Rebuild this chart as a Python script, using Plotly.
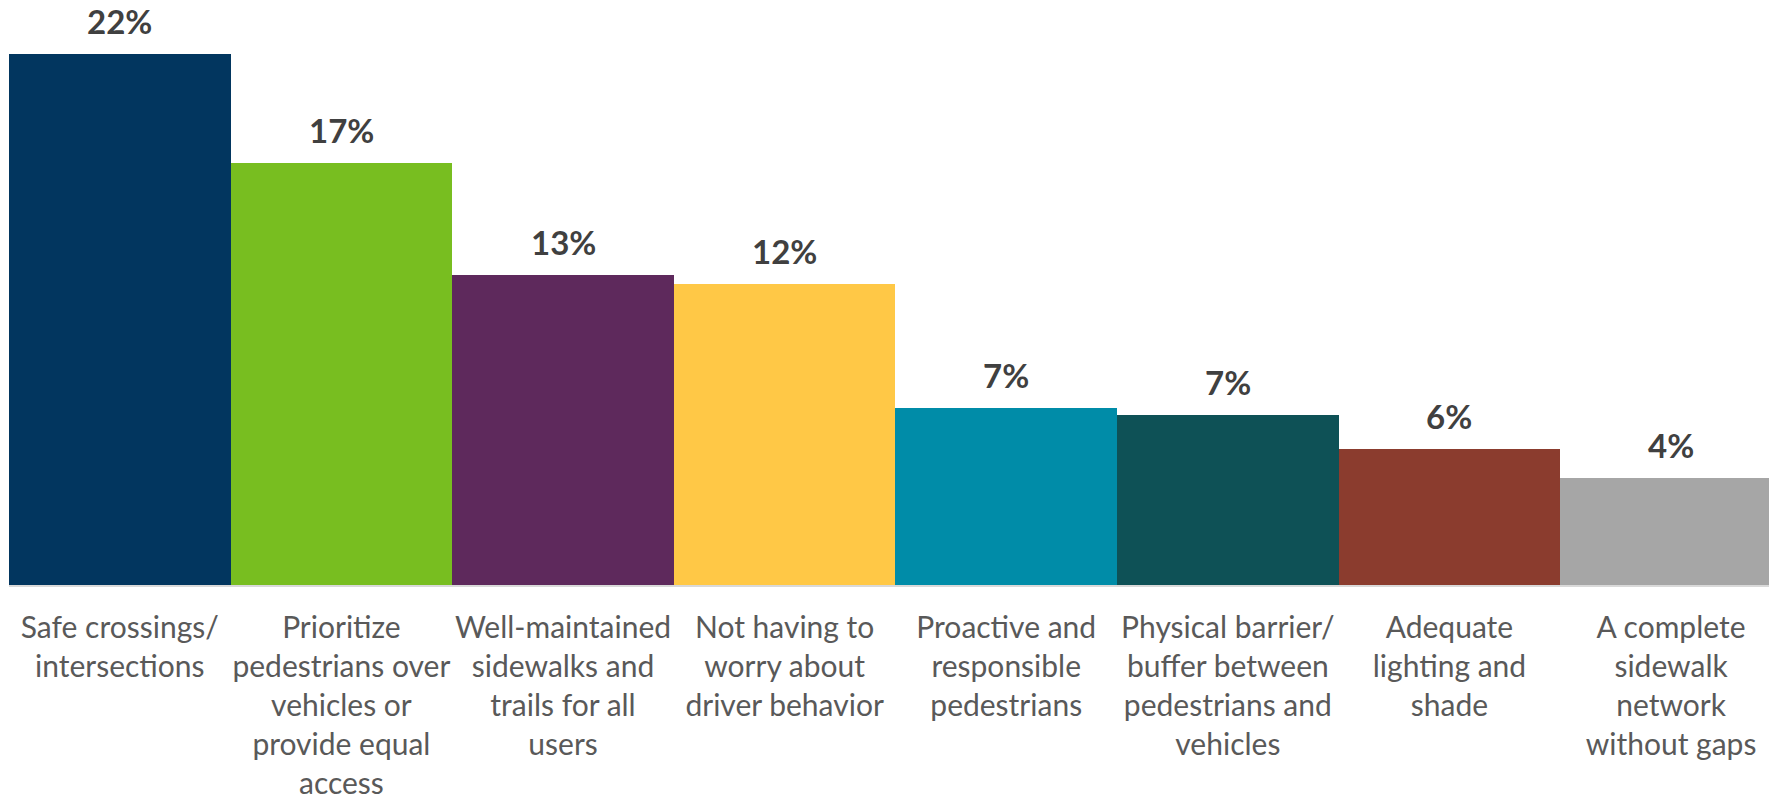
import plotly.graph_objects as go

categories = [
    "Safe crossings/<br>intersections",
    "Prioritize<br>pedestrians over<br>vehicles or<br>provide equal<br>access",
    "Well-maintained<br>sidewalks and<br>trails for all<br>users",
    "Not having to<br>worry about<br>driver behavior",
    "Proactive and<br>responsible<br>pedestrians",
    "Physical barrier/<br>buffer between<br>pedestrians and<br>vehicles",
    "Adequate<br>lighting and<br>shade",
    "A complete<br>sidewalk<br>network<br>without gaps",
]
values = [21.9, 17.4, 12.8, 12.4, 7.3, 7.0, 5.6, 4.4]
value_labels = ["22%", "17%", "13%", "12%", "7%", "7%", "6%", "4%"]
colors = ["#02365F", "#78BE20", "#5E295C", "#FFC846", "#008CA8", "#0E5156", "#8B3C2E", "#A6A6A6"]

FONT = "Lato"

fig = go.Figure()
fig.add_trace(go.Bar(
    x=list(range(len(categories))), y=values,
    marker=dict(color=colors, line=dict(width=0)),
    hoverinfo="skip", cliponaxis=True,
))

for i, (v, t) in enumerate(zip(values, value_labels)):
    fig.add_annotation(
        x=i, y=v, text=f"<b>{t}</b>", showarrow=False,
        xanchor="center", yanchor="bottom", yshift=11,
        font=dict(family=FONT, size=33, color="#404040"),
    )

fig.update_layout(
    width=1769, height=800,
    margin=dict(l=9, r=0, t=0, b=215),
    paper_bgcolor="white", plot_bgcolor="white",
    bargap=0, showlegend=False,
    font=dict(family=FONT, size=30, color="#595959"),
)
fig.update_xaxes(
    range=[-0.5, 7.442],
    tickmode="array", tickvals=list(range(len(categories))), ticktext=categories,
    showline=True, linecolor="#D9D9D9", linewidth=2,
    ticks="", ticklabelstandoff=15,
    tickfont=dict(family=FONT, size=30, color="#595959"),
    showgrid=False, zeroline=False, fixedrange=True,
)
fig.update_yaxes(
    range=[0, 24.12], visible=False, showgrid=False, fixedrange=True,
)

fig.write_html("out.html")
